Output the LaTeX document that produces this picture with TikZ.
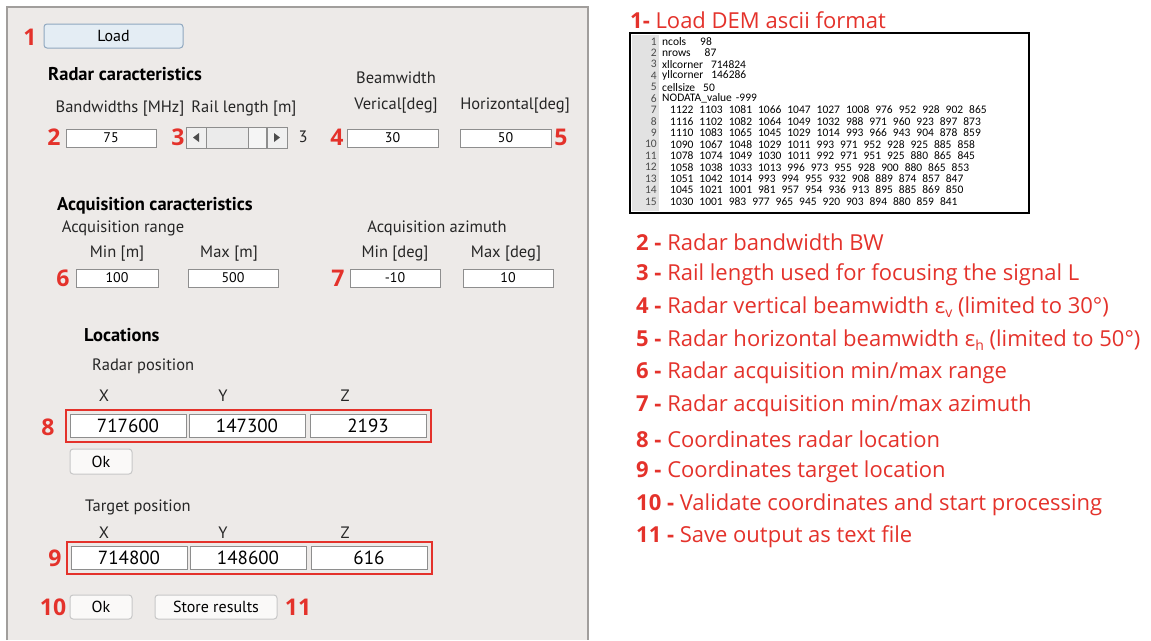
\documentclass[tikz,border=0pt]{standalone}
\usepackage{fontspec}
\setmainfont{Open Sans}
\newfontfamily\guifont{PT Sans}
\newfontfamily\demfont{Carlito}[WordSpace=2.3]
\usetikzlibrary{fit}
\definecolor{numred}{HTML}{E4322B}
\definecolor{panel}{HTML}{EDEAE8}
\definecolor{panelline}{HTML}{A19E9C}
\definecolor{fieldline}{HTML}{8E8E8E}
\definecolor{loadfill}{HTML}{E4EDF4}
\definecolor{loadline}{HTML}{8FA7BF}
\definecolor{gutter}{HTML}{E2E2E2}

\tikzset{
  num/.style={text=numred,font=\fontsize{23}{23}\selectfont\bfseries,inner sep=0pt},
  field/.style={draw=fieldline,fill=white,line width=1pt,minimum height=18pt,inner sep=0pt,
    font=\guifont\fontsize{14}{14}\selectfont},
  bigfield/.style={field,minimum width=116pt,minimum height=23pt,font=\guifont\fontsize{19}{19}\selectfont},
  btn/.style={draw=black!22,fill=white!70!panel,rounded corners=3pt,line width=1pt,minimum height=24pt,
    inner sep=0pt,font=\guifont\fontsize{16}{16}\selectfont},
  lbl/.style={font=\guifont\fontsize{16.5}{16.5}\selectfont,inner sep=0pt,text=black!85},
  head/.style={font=\guifont\fontsize{18.5}{18.5}\selectfont\bfseries,inner sep=0pt,anchor=west},
  redframe/.style={draw=numred,line width=2pt,inner sep=4pt},
  legend/.style={text=numred,font=\fontsize{22}{22}\selectfont,inner sep=0pt,anchor=west},
  dem/.style={font=\demfont\fontsize{11.5}{11.5}\selectfont,inner sep=0pt,anchor=west},
  lineno/.style={font=\demfont\fontsize{11.5}{11.5}\selectfont,text=black!70,inner sep=0pt,anchor=east}
}

\begin{document}
\begin{tikzpicture}[x=1pt,y=-1pt]
\useasboundingbox (0,0) rectangle (1151,640);
\fill[white] (0,0) rectangle (1151,640);

\fill[panel] (7,7) rectangle (588,640);
\draw[panelline,line width=2pt] (7,640) -- (7,7) -- (588,7) -- (588,640);

\node[num] (n1) at (30,37) {1};
\node[btn,draw=loadline,fill=loadfill,minimum width=139pt] (load) at (113.5,36) {Load};

\node[head] (radar) at (48,74) {Radar caracteristics};
\node[lbl] (bwlbl) at (120,109) {Bandwidths [MHz]};
\node[lbl] (raillbl) at (244,109) {Rail length [m]};
\node[lbl] (beam) at (396,78) {Beamwidth};
\node[lbl] (vertlbl) at (396,106) {Verical[deg]};
\node[lbl] (horlbl) at (515,106) {Horizontal[deg]};

\node[num] (n2) at (54,137) {2};
\node[field,minimum width=90pt] (bw) at (111,138) {75};
\node[num] (n3) at (178,137) {3};
\draw[fieldline,fill=black!8] (186,127) rectangle (287,148);
\draw[fieldline,fill=white!60!black!10] (248,127) rectangle (266,148);
\draw[fieldline,fill=black!6] (186,127) rectangle (206,148);
\draw[fieldline,fill=black!6] (267,127) rectangle (287,148);
\fill[black!70] (193,137.5) -- (199,133) -- (199,142) -- cycle;
\fill[black!70] (280,137.5) -- (274,133) -- (274,142) -- cycle;
\node[lbl] (railval) at (303,137) {3};
\node[num] (n4) at (337,137) {4};
\node[field,minimum width=91pt] (vert) at (392.5,138) {30};
\node[field,minimum width=91pt] (hor) at (505.5,138) {50};
\node[num] (n5) at (561,137) {5};

\node[head] (acq) at (57,206) {Acquisition caracteristics};
\node[lbl] (rangelbl) at (123,228) {Acquisition range};
\node[lbl] (azlbl) at (437,228) {Acquisition azimuth};
\node[lbl] (minm) at (117,254) {Min [m]};
\node[lbl] (maxm) at (229,254) {Max [m]};
\node[lbl] (mindeg) at (395,254) {Min [deg]};
\node[lbl] (maxdeg) at (506,254) {Max [deg]};
\node[num] (n6) at (63,278) {6};
\node[field,minimum width=82pt] (rmin) at (117,278) {100};
\node[field,minimum width=90pt] (rmax) at (233,278) {500};
\node[num] (n7) at (338,278) {7};
\node[field,minimum width=90pt] (amin) at (395,278) {-10};
\node[field,minimum width=90pt] (amax) at (508,278) {10};

\node[head] (loc) at (84,335) {Locations};
\node[lbl,anchor=west] (radpos) at (92,366) {Radar position};
\node[lbl] (rx) at (104,396) {X};
\node[lbl] (ry) at (223,396) {Y};
\node[lbl] (rz) at (345,396) {Z};
\node[bigfield] (radx) at (128,425.5) {717600};
\node[bigfield] (rady) at (247,425.5) {147300};
\node[bigfield] (radz) at (368,425.5) {2193};
\node[redframe,fit=(radx)(radz)] (radbox) {};
\node[num] (n8) at (48,427) {8};
\node[btn,minimum width=62pt,minimum height=25pt] (okradar) at (101,461.5) {Ok};

\node[lbl,anchor=west] (tgtpos) at (85,507) {Target position};
\node[lbl] (tx) at (104,533) {X};
\node[lbl] (ty) at (223,533) {Y};
\node[lbl] (tz) at (345,533) {Z};
\node[bigfield] (tgtx) at (129,558) {714800};
\node[bigfield] (tgty) at (248,558) {148600};
\node[bigfield] (tgtz) at (369,558) {616};
\node[redframe,fit=(tgtx)(tgtz)] (tgtbox) {};
\node[num] (n9) at (55,558) {9};

\node[num] (n10) at (53,607) {10};
\node[btn,minimum width=62pt] (ok) at (101,607) {Ok};
\node[btn,minimum width=122pt] (store) at (216,607) {Store results};
\node[num] (n11) at (298,607) {11};

\node[legend] (title) at (630,20) {\textbf{1-} Load DEM ascii format};
\fill[gutter] (632,35) rectangle (659,211);
\draw[line width=2pt] (630,33) rectangle (1029,213);
\foreach \i/\row in {
  1/{ncols\hspace{14pt}98},
  2/{nrows\hspace{14pt}87},
  3/{xllcorner\hspace{8pt}714824},
  4/{yllcorner\hspace{8pt}146286},
  5/{cellsize\hspace{8pt}50},
  6/{NODATA\_value\hspace{4pt}-999}} {
  \node[lineno] (ln\i) at (657,30+11.43*\i) {\i};
  \node[dem] (dem\i) at (662,30+11.43*\i) {\row};
}
\foreach \i/\row in {
  7/{1122 1103 1081 1066 1047 1027 1008 976 952 928 902 865},
  8/{1116 1102 1082 1064 1049 1032 988 971 960 923 897 873},
  9/{1110 1083 1065 1045 1029 1014 993 966 943 904 878 859},
  10/{1090 1067 1048 1029 1011 993 971 952 928 925 885 858},
  11/{1078 1074 1049 1030 1011 992 971 951 925 880 865 845},
  12/{1058 1038 1033 1013 996 973 955 928 900 880 865 853},
  13/{1051 1042 1014 993 994 955 932 908 889 874 857 847},
  14/{1045 1021 1001 981 957 954 936 913 895 885 869 850},
  15/{1030 1001 983 977 965 945 920 903 894 880 859 841}} {
  \node[lineno] (ln\i) at (657,30+11.43*\i) {\i};
  \node[dem] (dem\i) at (670,30+11.43*\i) {\row};
}

\foreach \i/\txt in {
  2/{Radar bandwidth BW},
  3/{Rail length used for focusing the signal L},
  4/{Radar vertical beamwidth ε\raisebox{-4pt}{\fontsize{14}{14}\selectfont v} (limited to 30°)},
  5/{Radar horizontal beamwidth ε\raisebox{-4pt}{\fontsize{14}{14}\selectfont h} (limited to 50°)},
  6/{Radar acquisition min/max range},
  7/{Radar acquisition min/max azimuth},
  8/{Coordinates radar location},
  9/{Coordinates target location},
  10/{Validate coordinates and start processing},
  11/{Save output as text file}} {
  \node[legend] (item\i) at (636,242+32.8*\i-65.6) {\textbf{\i\ -} \txt};
}
\end{tikzpicture}
\end{document}
